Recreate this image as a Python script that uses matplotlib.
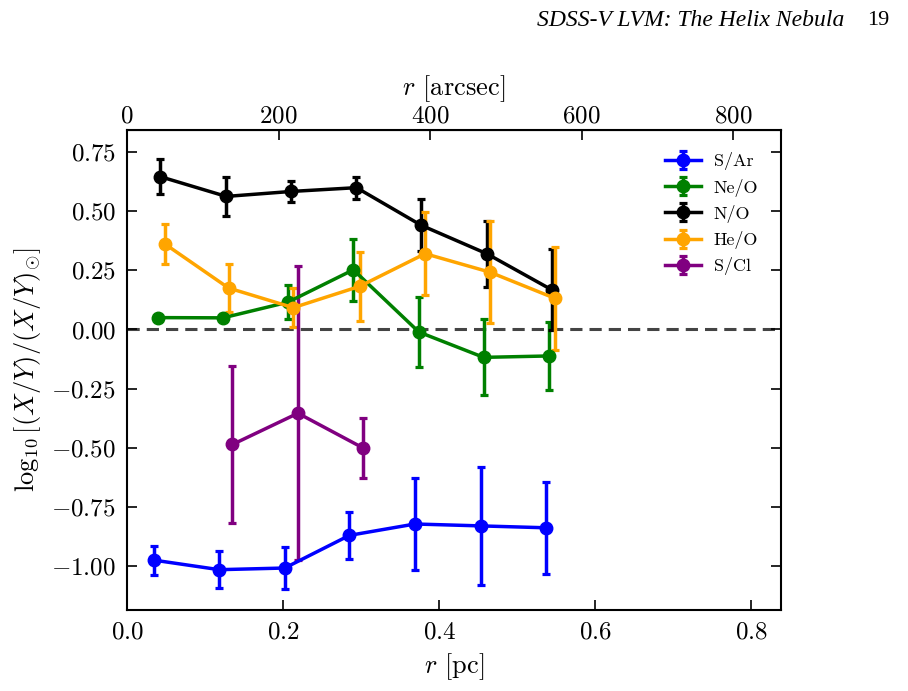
import numpy as np
import matplotlib
matplotlib.use("Agg")
import matplotlib.pyplot as plt

plt.rcParams['font.family'] = 'serif'
plt.rcParams['font.serif'] = ['cmr10']
plt.rcParams['mathtext.fontset'] = 'cm'
plt.rcParams['axes.formatter.use_mathtext'] = True
plt.rcParams['axes.unicode_minus'] = True

# radial bins [pc], slightly offset per ratio
r_SAr = [0.035, 0.118, 0.202, 0.285, 0.369, 0.453, 0.537]
SAr = [-0.975, -1.015, -1.008, -0.870, -0.822, -0.830, -0.838]
SAr_err = [0.062, 0.077, 0.088, 0.100, 0.193, 0.250, 0.195]

r_NeO = [0.039, 0.123, 0.206, 0.290, 0.374, 0.457, 0.541]
NeO = [0.050, 0.049, 0.115, 0.252, -0.011, -0.118, -0.112]
NeO_err = [0.012, 0.015, 0.072, 0.130, 0.148, 0.160, 0.145]

r_NO = [0.042, 0.127, 0.2105, 0.294, 0.377, 0.461, 0.544]
NO = [0.646, 0.562, 0.583, 0.599, 0.440, 0.320, 0.168]
NO_err = [0.072, 0.082, 0.046, 0.047, 0.110, 0.140, 0.172]

r_HeO = [0.048, 0.130, 0.213, 0.298, 0.382, 0.465, 0.548]
HeO = [0.362, 0.175, 0.092, 0.182, 0.320, 0.242, 0.132]
HeO_err = [0.085, 0.100, 0.082, 0.146, 0.176, 0.215, 0.218]

r_SCl = [0.135, 0.219, 0.302]
SCl = [-0.486, -0.354, -0.500]
SCl_err = [0.330, 0.620, 0.127]

PC_PER_ARCSEC = 0.000971

fig = plt.figure(figsize=(9.08, 6.91), dpi=100)
ax = fig.add_axes([0.140, 0.117, 0.720, 0.695])

series = [
    (r_SAr, SAr, SAr_err, 'blue', 'S/Ar'),
    (r_NeO, NeO, NeO_err, 'green', 'Ne/O'),
    (r_NO, NO, NO_err, 'black', 'N/O'),
    (r_HeO, HeO, HeO_err, 'orange', 'He/O'),
    (r_SCl, SCl, SCl_err, 'purple', 'S/Cl'),
]
for r, v, e, c, lab in series:
    ax.errorbar(r, v, yerr=e, fmt='-o', color=c, lw=2.5, ms=9,
                elinewidth=2.5, capsize=3, capthick=2.3, label=lab)

ax.axhline(0, color='#444444', ls='--', lw=2.2, dashes=(4, 2.3), zorder=0)

ax.set_xlim(0, 0.838)
ax.set_ylim(-1.186, 0.843)
ax.set_xticks([0.0, 0.2, 0.4, 0.6, 0.8])
ax.set_yticks([0.75, 0.5, 0.25, 0.0, -0.25, -0.5, -0.75, -1.0])
ax.tick_params(direction='in', which='both', labelsize=18, length=7,
               width=1.2, right=True, top=False, pad=8)
for s in ax.spines.values():
    s.set_linewidth(1.5)

ax.set_xlabel(r'$r$ [pc]', fontsize=19, labelpad=6)
ax.set_ylabel(r'$\log_{10}[(X/Y)/(X/Y)_{\odot}]$', fontsize=19, labelpad=6)

top = ax.secondary_xaxis('top', functions=(lambda x: x / PC_PER_ARCSEC,
                                           lambda a: a * PC_PER_ARCSEC))
top.set_xticks([0, 200, 400, 600, 800])
top.tick_params(direction='in', labelsize=18, length=7, width=1.2, pad=2)
top.set_xlabel(r'$r$ [arcsec]', fontsize=19, labelpad=7)

ax.legend(loc='upper right', frameon=False, fontsize=13,
          handlelength=2.0, handletextpad=0.7, labelspacing=0.45,
          borderaxespad=0.85)

fig.text(0.591, 0.970, 'SDSS-V LVM: The Helix Nebula', family='Liberation Serif',
         style='italic', fontsize=17, va='center')
fig.text(0.955, 0.970, '19', family='Liberation Serif', fontsize=16, va='center')

fig.savefig('out.png', dpi=100)
